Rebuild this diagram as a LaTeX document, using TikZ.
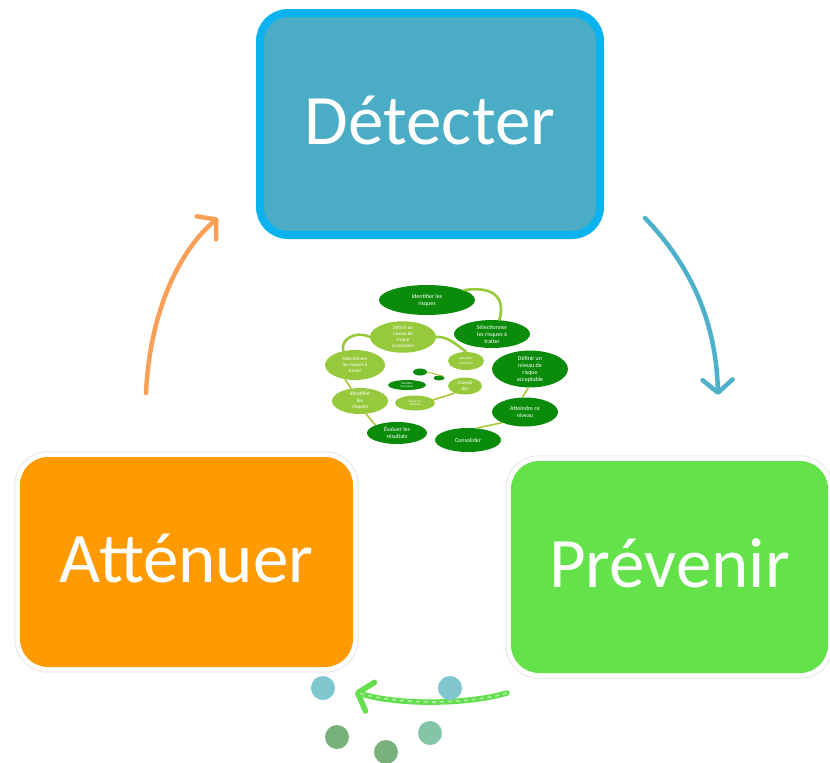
\documentclass[tikz,border=0pt]{standalone}
\usepackage{fontspec}
\setmainfont{Carlito}
\usetikzlibrary{shapes.geometric,arrows.meta}
\definecolor{detfill}{HTML}{4BACC6}
\definecolor{detborder}{HTML}{0AB2EE}
\definecolor{attfill}{HTML}{FF9B00}
\definecolor{prefill}{HTML}{63E24A}
\definecolor{orarrow}{HTML}{F8A058}
\definecolor{blarrow}{HTML}{4FB0CA}
\definecolor{grarrow}{HTML}{63DE4C}
\definecolor{dotteal}{HTML}{7FC6CE}
\definecolor{dotgreen}{HTML}{78B179}
\definecolor{dottg}{HTML}{85C5A7}
\definecolor{dkgreen}{HTML}{0A8C0A}
\definecolor{ltgreen}{HTML}{97C93C}
\definecolor{olive}{HTML}{A9C63A}
\begin{document}
\begin{tikzpicture}[x=1pt,y=-1pt,
  mainbox/.style={rectangle, rounded corners=28pt, inner sep=0pt, text=white,
    font=\fontsize{71}{71}\selectfont, text depth=7pt},
  dg/.style={ellipse, fill=dkgreen, text=white, inner sep=0pt, align=center,
    font=\fontsize{6}{7}\selectfont},
  lg/.style={ellipse, fill=ltgreen, text=white, inner sep=0pt, align=center,
    font=\fontsize{5}{6}\selectfont},
  leaf/.style={draw=ltgreen, line width=2.6pt, line cap=round},
  oliveline/.style={draw=olive, line width=1.6pt},
  dot/.style={circle, inner sep=0pt, minimum size=24pt},
  handarrow/.style={line width=4.5pt, line cap=round,
    -{Straight Barb[length=13pt,width=30pt,round]}}
]
\useasboundingbox (0,0) rectangle (830,763);

% main boxes
\node[mainbox, fill=detfill, draw=detborder, line width=8pt,
  minimum width=340pt, minimum height=222pt] (det) at (430,124) {Détecter};

\node[mainbox, fill=attfill, minimum width=333pt, minimum height=210pt]
  (att) at (186.5,562) {Atténuer};
\draw[gray!18, line width=1pt, rounded corners=33pt]
  ([shift={(-5,5)}]att.south west) rectangle ([shift={(5,-5)}]att.north east);

\node[mainbox, fill=prefill, minimum width=317pt, minimum height=212pt]
  (pre) at (669.5,567) {Prévenir};
\draw[gray!18, line width=1pt, rounded corners=33pt]
  ([shift={(-5,5)}]pre.south west) rectangle ([shift={(5,-5)}]pre.north east);

% cycle arrows
\coordinate (oa1) at (146,393);
\coordinate (oa2) at (218,218);
\coordinate (ba1) at (645,218);
\coordinate (ba2) at (718,395);
\coordinate (ga1) at (507,693);
\coordinate (ga2) at (355,692);
\draw[handarrow, draw=orarrow] (oa1) .. controls (150,310) and (180,250) .. (oa2);
\draw[handarrow, draw=blarrow] (ba1) .. controls (690,265) and (716,320) .. (ba2);
\draw[handarrow, draw=grarrow, line width=5.5pt] (ga1) .. controls (470,704) and (400,706) .. (ga2);
\draw[white, opacity=0.45, line width=1.8pt, dash pattern=on 4pt off 4pt]
  (ga1) .. controls (470,704) and (400,706) .. (ga2);

% dots
\node[dot, fill=dotteal] (d1) at (323,688) {};
\node[dot, fill=dotteal] (d2) at (450,688) {};
\node[dot, fill=dotgreen] (d3) at (337,737) {};
\node[dot, fill=dotgreen] (d4) at (386,752) {};
\node[dot, fill=dottg] (d5) at (430,733) {};

% central mini diagram
\node[dg, minimum width=96pt, minimum height=30pt] (id1) at (427,300) {Identifier les\\risques};
\node[dg, minimum width=76pt, minimum height=28pt] (sel1) at (492,334) {Sélectionner\\les risques à\\traiter};
\node[dg, minimum width=76pt, minimum height=32pt] (def1) at (530,369) {Définir un\\niveau de\\risque\\acceptable};
\node[dg, minimum width=66pt, minimum height=29pt] (att1) at (525,412) {Atteindre ce\\niveau};
\node[dg, minimum width=66pt, minimum height=24pt] (cons1) at (468,440) {Consolider};
\node[dg, minimum width=60pt, minimum height=22pt] (eval1) at (397,433) {Évaluer les\\résultats};

\node[lg, minimum width=56pt, minimum height=26pt, font=\fontsize{5.5}{6.5}\selectfont] (id2) at (360,401) {Identifier\\les\\risques};
\node[lg, minimum width=60pt, minimum height=30pt] (sel2) at (355,365) {Sélectionner\\les risques à\\traiter};
\node[lg, minimum width=66pt, minimum height=29pt] (def2) at (403,337) {Définir un\\niveau de\\risque\\acceptable};
\node[lg, minimum width=36pt, minimum height=18pt, font=\fontsize{3.5}{4.5}\selectfont] (att2) at (466,361) {Atteindre\\ce niveau};
\node[lg, minimum width=34pt, minimum height=17pt, font=\fontsize{5}{6}\selectfont] (cons2) at (465,386) {Consoli\\der};
\node[lg, minimum width=40pt, minimum height=15pt, font=\fontsize{3}{3.5}\selectfont] (eval2) at (415,403) {Évaluer les\\résultats};

\node[dg, minimum width=38pt, minimum height=10pt, font=\fontsize{3}{3.5}\selectfont] (id3) at (407,385) {Identifier\\les risques};
\node[dg, minimum width=14pt, minimum height=7pt] (s1) at (420,372) {};
\node[dg, minimum width=11pt, minimum height=5pt] (s2) at (439,378) {};

% mini connectors
\draw[leaf] (id1.15) .. controls (492,286) and (506,296) .. (sel1.62);
\draw[leaf] (sel2.130) .. controls (340,340) and (355,330) .. (def2.west);
\draw[leaf] (def2.east) .. controls (446,336) and (455,343) .. (att2.north);
\draw[oliveline] (def1.-95) -- (att1.100);
\draw[oliveline] (att1.205) -- (cons1.55);
\draw[oliveline] (sel2.235) -- (id2.125);
\draw[oliveline] (id2.295) -- (eval1.160);
\draw[oliveline] (eval2.10) -- (cons2.215);
\draw[oliveline, line width=1pt] (s1.east) -- (s2.north east);
\end{tikzpicture}
\end{document}
